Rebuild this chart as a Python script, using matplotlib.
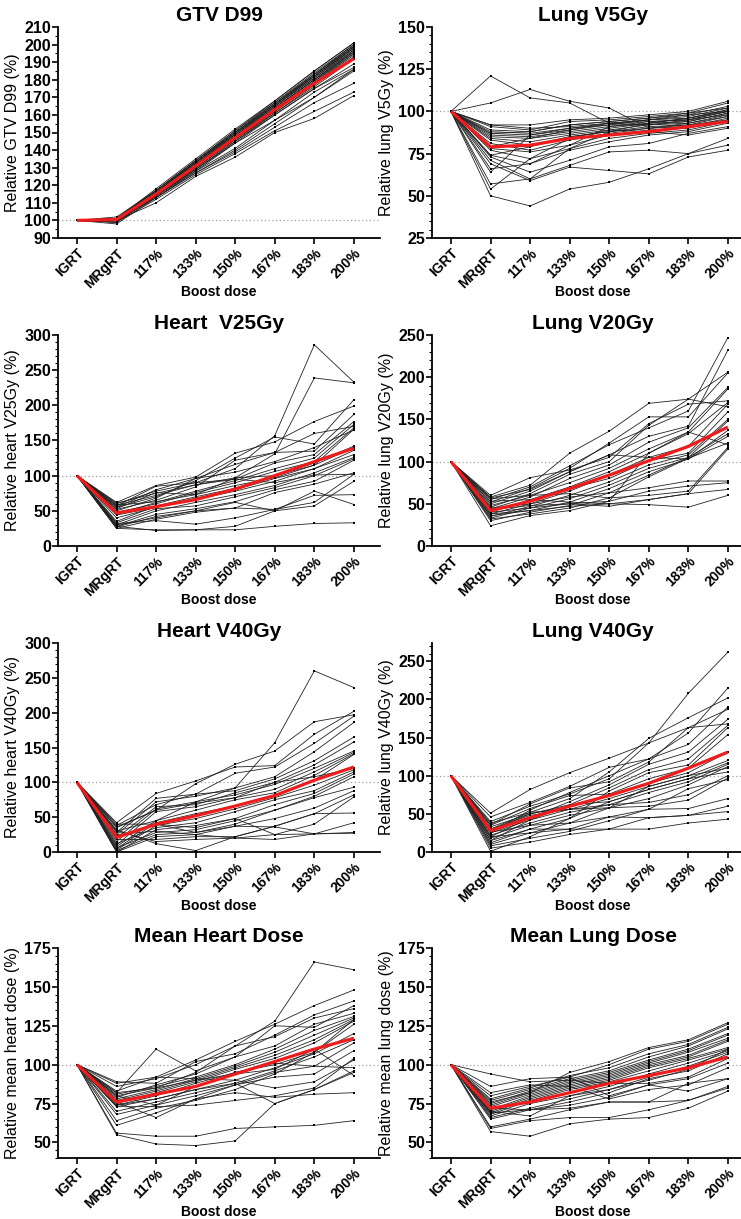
import numpy as np
from matplotlib import pyplot as plt
from matplotlib.ticker import MultipleLocator

# 设置字体（Arial 等宽替代）
plt.rcParams['font.family'] = ['Liberation Sans', 'DejaVu Sans']

# 横轴类别
categories = ['IGRT', 'MRgRT', '117%', '133%', '150%', '167%', '183%', '200%']

# ---------------- 数据：每行一个病人 ----------------
gtv_d99 = [
    [100, 101, 118, 135, 152, 168, 185, 201],
    [100, 101, 117, 134, 151, 167, 184, 200],
    [100, 102, 117, 134, 151, 168, 185, 201],
    [100, 101, 117, 133, 150, 166, 183, 199],
    [100, 100, 116, 133, 150, 166, 182, 199],
    [100, 101, 116, 133, 149, 166, 182, 198],
    [100, 100, 116, 132, 149, 165, 181, 198],
    [100, 101, 116, 132, 148, 165, 181, 197],
    [100, 100, 115, 132, 148, 164, 180, 197],
    [100, 100, 115, 131, 148, 164, 180, 196],
    [100, 99, 115, 131, 147, 163, 179, 196],
    [100, 101, 115, 131, 147, 163, 179, 195],
    [100, 100, 115, 130, 146, 162, 178, 195],
    [100, 100, 114, 130, 146, 162, 178, 194],
    [100, 99, 114, 130, 146, 161, 177, 193],
    [100, 100, 114, 129, 145, 161, 176, 192],
    [100, 100, 114, 129, 145, 160, 175, 189],
    [100, 99, 114, 128, 144, 160, 175, 187],
    [100, 100, 113, 128, 141, 157, 173, 186],
    [100, 100, 113, 127, 140, 155, 170, 185],
    [100, 98, 113, 127, 139, 153, 167, 178],
    [100, 99, 112, 126, 138, 151, 162, 173],
    [100, 100, 110, 125, 136, 150, 158, 171],
    [100, 101, 117, 134, 150, 167, 183, 200],
    [100, 101, 116, 133, 150, 166, 183, 199],
    [100, 100, 116, 132, 149, 165, 182, 198],
    [100, 101, 115, 131, 147, 164, 180, 196],
    [100, 100, 114, 129, 144, 157, 170, 186],
]
gtv_d99_mean = [100, 100.5, 115, 131, 147, 163, 178, 192]

lung_v5 = [
    [100, 121, 108, 105, 93, 92, 95, 100],
    [100, 105, 113, 106, 102, 90, 93, 97],
    [100, 92, 92, 95, 96, 98, 100, 106],
    [100, 91, 89, 94, 95, 97, 99, 105],
    [100, 89, 88, 92, 94, 96, 98, 103],
    [100, 88, 87, 90, 93, 95, 97, 102],
    [100, 87, 86, 89, 92, 95, 96, 101],
    [100, 86, 85, 88, 91, 94, 95, 100],
    [100, 85, 84, 87, 90, 93, 94, 99],
    [100, 84, 82, 86, 89, 92, 93, 98],
    [100, 83, 80, 85, 88, 91, 92, 97],
    [100, 81, 77, 83, 87, 90, 91, 96],
    [100, 78, 76, 80, 86, 89, 90, 95],
    [100, 77, 72, 78, 84, 87, 89, 94],
    [100, 74, 69, 77, 82, 86, 88, 93],
    [100, 73, 64, 71, 79, 81, 87, 91],
    [100, 71, 60, 68, 76, 77, 75, 84],
    [100, 69, 59, 67, 65, 63, 73, 77],
    [100, 66, 69, 80, 91, 93, 96, 100],
    [100, 64, 86, 90, 92, 92, 94, 99],
    [100, 57, 60, 78, 88, 90, 92, 95],
    [100, 54, 72, 84, 89, 88, 86, 90],
    [100, 50, 44, 54, 58, 66, 75, 80],
    [100, 74, 79, 85, 88, 93, 96, 101],
    [100, 92, 90, 91, 93, 95, 98, 100],
    [100, 87, 88, 92, 94, 96, 99, 102],
    [100, 79, 84, 89, 93, 94, 95, 98],
]
lung_v5_mean = [100, 79, 80, 84, 86, 88, 91, 94]

heart_v25 = [
    [100, 60, 78, 90, 110, 157, 286, 233],
    [100, 58, 72, 87, 97, 131, 239, 232],
    [100, 55, 70, 93, 125, 155, 145, 208],
    [100, 62, 86, 98, 132, 148, 177, 199],
    [100, 52, 65, 84, 122, 133, 160, 170],
    [100, 50, 68, 96, 116, 133, 135, 187],
    [100, 57, 85, 90, 95, 118, 130, 177],
    [100, 45, 62, 78, 93, 110, 125, 173],
    [100, 48, 60, 76, 90, 106, 120, 168],
    [100, 53, 76, 73, 86, 97, 115, 166],
    [100, 35, 57, 70, 82, 100, 118, 142],
    [100, 40, 55, 66, 78, 92, 110, 136],
    [100, 30, 50, 62, 73, 86, 104, 126],
    [100, 33, 53, 57, 70, 83, 100, 124],
    [100, 28, 45, 53, 63, 80, 92, 122],
    [100, 27, 42, 50, 54, 76, 88, 104],
    [100, 25, 38, 48, 54, 52, 62, 102],
    [100, 30, 40, 50, 62, 50, 57, 92],
    [100, 32, 36, 31, 40, 52, 72, 73],
    [100, 25, 23, 23, 23, 28, 32, 33],
    [100, 28, 22, 23, 28, 50, 78, 59],
    [100, 58, 63, 73, 97, 100, 115, 140],
    [100, 55, 80, 96, 105, 120, 140, 165],
    [100, 61, 75, 87, 95, 90, 101, 102],
    [100, 44, 55, 68, 80, 96, 110, 130],
]
heart_v25_mean = [100, 47, 56, 66, 81, 100, 120, 139]

lung_v20 = [
    [100, 55, 70, 95, 120, 140, 160, 247],
    [100, 50, 65, 88, 108, 130, 142, 232],
    [100, 58, 72, 110, 136, 169, 174, 206],
    [100, 52, 68, 92, 122, 153, 153, 205],
    [100, 60, 81, 90, 105, 145, 168, 172],
    [100, 46, 62, 85, 100, 143, 174, 165],
    [100, 44, 58, 80, 96, 123, 140, 188],
    [100, 48, 60, 75, 92, 115, 135, 186],
    [100, 40, 55, 70, 88, 110, 133, 170],
    [100, 38, 50, 65, 84, 105, 118, 168],
    [100, 42, 53, 68, 80, 101, 110, 159],
    [100, 35, 47, 60, 76, 96, 108, 150],
    [100, 33, 45, 56, 72, 92, 105, 148],
    [100, 36, 42, 52, 68, 88, 103, 137],
    [100, 30, 40, 48, 63, 84, 105, 133],
    [100, 32, 38, 45, 57, 82, 104, 122],
    [100, 24, 36, 42, 53, 110, 135, 120],
    [100, 56, 60, 62, 57, 60, 65, 117],
    [100, 53, 55, 52, 50, 55, 62, 115],
    [100, 45, 50, 58, 63, 69, 77, 77],
    [100, 40, 45, 50, 53, 65, 71, 75],
    [100, 38, 42, 47, 50, 49, 46, 60],
    [100, 43, 48, 50, 47, 55, 62, 67],
    [100, 57, 67, 88, 108, 105, 103, 130],
]
lung_v20_mean = [100, 42, 53, 68, 84, 101, 118, 141]

heart_v40 = [
    [100, 30, 45, 72, 92, 157, 260, 236],
    [100, 35, 60, 98, 126, 145, 187, 197],
    [100, 42, 84, 102, 122, 124, 169, 202],
    [100, 28, 77, 83, 113, 122, 156, 195],
    [100, 25, 72, 80, 92, 108, 144, 186],
    [100, 38, 68, 83, 88, 105, 131, 165],
    [100, 20, 65, 68, 85, 100, 125, 158],
    [100, 15, 62, 72, 82, 97, 120, 145],
    [100, 10, 58, 65, 78, 90, 115, 143],
    [100, 8, 45, 60, 75, 85, 110, 141],
    [100, 5, 42, 55, 66, 82, 103, 140],
    [100, 3, 38, 48, 62, 78, 96, 118],
    [100, 12, 35, 42, 58, 75, 88, 115],
    [100, 0, 32, 38, 48, 68, 84, 112],
    [100, 6, 28, 32, 45, 60, 80, 108],
    [100, 2, 25, 28, 40, 60, 78, 93],
    [100, 0, 22, 25, 37, 48, 63, 88],
    [100, 18, 18, 22, 22, 37, 55, 82],
    [100, 30, 15, 18, 20, 25, 40, 79],
    [100, 32, 12, 2, 22, 37, 55, 56],
    [100, 40, 40, 28, 37, 36, 26, 42],
    [100, 25, 30, 25, 20, 18, 26, 28],
    [100, 22, 40, 35, 48, 25, 26, 27],
    [100, 36, 60, 70, 78, 100, 108, 120],
]
heart_v40_mean = [100, 21, 40, 52, 66, 81, 103, 122]

lung_v40 = [
    [100, 40, 60, 76, 96, 143, 208, 262],
    [100, 30, 52, 70, 105, 149, 176, 202],
    [100, 51, 82, 104, 123, 143, 163, 168],
    [100, 46, 65, 86, 111, 122, 156, 215],
    [100, 25, 55, 78, 100, 122, 141, 190],
    [100, 36, 63, 84, 92, 118, 163, 187],
    [100, 20, 45, 66, 88, 115, 131, 174],
    [100, 15, 42, 62, 84, 108, 122, 166],
    [100, 1, 20, 44, 80, 104, 114, 163],
    [100, 35, 57, 74, 76, 96, 110, 154],
    [100, 33, 50, 60, 74, 90, 104, 131],
    [100, 30, 48, 56, 70, 86, 100, 120],
    [100, 28, 50, 62, 66, 82, 96, 117],
    [100, 22, 38, 52, 62, 78, 92, 115],
    [100, 18, 35, 48, 58, 70, 88, 112],
    [100, 10, 25, 38, 58, 86, 100, 110],
    [100, 12, 30, 44, 66, 82, 96, 105],
    [100, 25, 42, 56, 62, 65, 75, 100],
    [100, 38, 52, 56, 58, 60, 68, 97],
    [100, 8, 18, 27, 41, 56, 83, 95],
    [100, 26, 35, 38, 46, 56, 57, 70],
    [100, 5, 13, 23, 30, 45, 48, 60],
    [100, 20, 25, 30, 46, 45, 48, 53],
    [100, 15, 30, 30, 30, 30, 38, 43],
]
lung_v40_mean = [100, 28, 45, 60, 74, 90, 110, 131]

mean_heart = [
    [100, 80, 85, 95, 112, 128, 166, 161],
    [100, 83, 92, 103, 115, 126, 138, 148],
    [100, 89, 88, 102, 107, 119, 132, 141],
    [100, 82, 110, 96, 105, 125, 124, 138],
    [100, 86, 91, 100, 112, 118, 130, 136],
    [100, 79, 87, 94, 105, 112, 126, 133],
    [100, 81, 86, 92, 100, 110, 122, 131],
    [100, 78, 84, 91, 99, 108, 119, 130],
    [100, 77, 83, 90, 98, 106, 116, 129],
    [100, 75, 82, 89, 97, 104, 114, 128],
    [100, 74, 80, 88, 95, 100, 108, 126],
    [100, 73, 78, 84, 90, 98, 107, 120],
    [100, 70, 76, 82, 88, 96, 105, 116],
    [100, 68, 74, 80, 87, 95, 99, 114],
    [100, 64, 72, 77, 84, 94, 108, 129],
    [100, 61, 69, 78, 87, 92, 94, 109],
    [100, 73, 73, 74, 77, 80, 85, 104],
    [100, 88, 92, 91, 90, 85, 89, 103],
    [100, 76, 66, 78, 82, 79, 81, 82],
    [100, 80, 74, 86, 95, 101, 99, 98],
    [100, 74, 78, 84, 88, 75, 84, 96],
    [100, 56, 54, 54, 59, 60, 61, 64],
    [100, 55, 49, 48, 51, 75, 84, 95],
    [100, 82, 85, 90, 94, 97, 110, 93],
]
mean_heart_mean = [100, 76, 81, 86, 94, 102, 110, 117]

mean_lung = [
    [100, 76, 82, 95, 102, 111, 116, 127],
    [100, 80, 86, 92, 100, 110, 115, 126],
    [100, 78, 85, 93, 98, 107, 113, 124],
    [100, 77, 84, 91, 96, 105, 112, 123],
    [100, 75, 83, 90, 95, 103, 110, 120],
    [100, 74, 82, 89, 94, 102, 109, 119],
    [100, 73, 81, 88, 93, 101, 108, 117],
    [100, 71, 80, 87, 92, 100, 106, 116],
    [100, 70, 79, 86, 91, 99, 105, 115],
    [100, 69, 78, 85, 90, 98, 104, 111],
    [100, 68, 77, 84, 89, 96, 103, 110],
    [100, 67, 75, 80, 86, 94, 101, 109],
    [100, 66, 72, 78, 84, 92, 99, 108],
    [100, 65, 71, 76, 82, 91, 96, 107],
    [100, 94, 89, 90, 88, 88, 92, 104],
    [100, 86, 91, 92, 80, 87, 91, 101],
    [100, 82, 87, 86, 78, 84, 87, 98],
    [100, 72, 71, 72, 76, 76, 88, 91],
    [100, 60, 65, 71, 76, 76, 77, 86],
    [100, 59, 64, 66, 66, 71, 77, 85],
    [100, 57, 54, 62, 65, 66, 72, 83],
    [100, 70, 67, 80, 84, 90, 97, 110],
    [100, 69, 71, 74, 79, 87, 83, 91],
]
mean_lung_mean = [100, 72, 76, 82, 88, 93, 98, 105]

# 面板设置：数据、均值、标题、纵轴标题、范围、主刻度、次刻度
panels = [
    (gtv_d99, gtv_d99_mean, 'GTV D99', 'Relative GTV D99 (%)', (90, 210), 10, 5),
    (lung_v5, lung_v5_mean, 'Lung V5Gy', 'Relative lung V5Gy (%)', (25, 150), 25, 5),
    (heart_v25, heart_v25_mean, 'Heart  V25Gy', 'Relative heart V25Gy (%)', (0, 300), 50, 10),
    (lung_v20, lung_v20_mean, 'Lung V20Gy', 'Relative lung V20Gy (%)', (0, 250), 50, 10),
    (heart_v40, heart_v40_mean, 'Heart V40Gy', 'Relative heart V40Gy (%)', (0, 300), 50, 10),
    (lung_v40, lung_v40_mean, 'Lung V40Gy', 'Relative lung V40Gy (%)', (0, 274), 50, 10),
    (mean_heart, mean_heart_mean, 'Mean Heart Dose', 'Relative mean heart dose (%)', (40, 175), 25, 5),
    (mean_lung, mean_lung_mean, 'Mean Lung Dose', 'Relative mean lung dose (%)', (40, 175), 25, 5),
]

W, H = 741, 1219
row_top = [27, 335, 643, 948]
row_bottom = [238, 546, 852, 1158]
col_left = [58, 432]
ax_width = 322


def draw_panel(ax, lines, mean, title, ylabel, ylim, major, minor):
    x = np.arange(len(categories))
    # 1.参考线
    ax.axhline(100, color='#a0a0a0', linestyle=(0, (1, 2)), linewidth=0.9, zorder=1)
    # 2.每个病人的曲线
    for row in lines:
        ax.plot(x, row, color='#222222', linewidth=0.6, marker='s', markersize=2.0,
                markeredgewidth=0, markerfacecolor='black', zorder=2)
    # 3.均值曲线
    ax.plot(x, mean, color='#ee1c1c', linewidth=2.3, zorder=3, solid_capstyle='butt')
    # 4.坐标轴属性
    ax.set_xlim(-0.48, 7.66)
    ax.set_ylim(*ylim)
    ax.yaxis.set_major_locator(MultipleLocator(major))
    ax.yaxis.set_minor_locator(MultipleLocator(minor))
    ax.set_xticks(x)
    ax.set_xticklabels(categories, rotation=45, ha='right', va='top',
                       rotation_mode='anchor', fontsize=10, fontweight='bold')
    for lab in ax.get_yticklabels():
        lab.set_fontweight('bold')
    ax.tick_params(axis='y', which='major', labelsize=11.5, width=1.2, length=4, pad=1)
    ax.tick_params(axis='y', which='minor', width=0.8, length=2)
    ax.tick_params(axis='x', which='major', width=1.2, length=4, pad=2)
    ax.spines['top'].set_visible(False)
    ax.spines['right'].set_visible(False)
    ax.spines['left'].set_linewidth(1.3)
    ax.spines['bottom'].set_linewidth(1.3)
    ax.set_title(title, fontsize=15, fontweight='bold', pad=4)
    ax.set_ylabel(ylabel, fontsize=11.5, labelpad=3)
    ax.set_xlabel('Boost dose', fontsize=10, fontweight='bold', labelpad=-4)


fig = plt.figure(figsize=(W / 100, H / 100), dpi=100)
for i, p in enumerate(panels):
    r, c = divmod(i, 2)
    rect = [col_left[c] / W, 1 - row_bottom[r] / H, ax_width / W,
            (row_bottom[r] - row_top[r]) / H]
    ax = fig.add_axes(rect)
    draw_panel(ax, *p)

fig.savefig('out.png', dpi=100)
